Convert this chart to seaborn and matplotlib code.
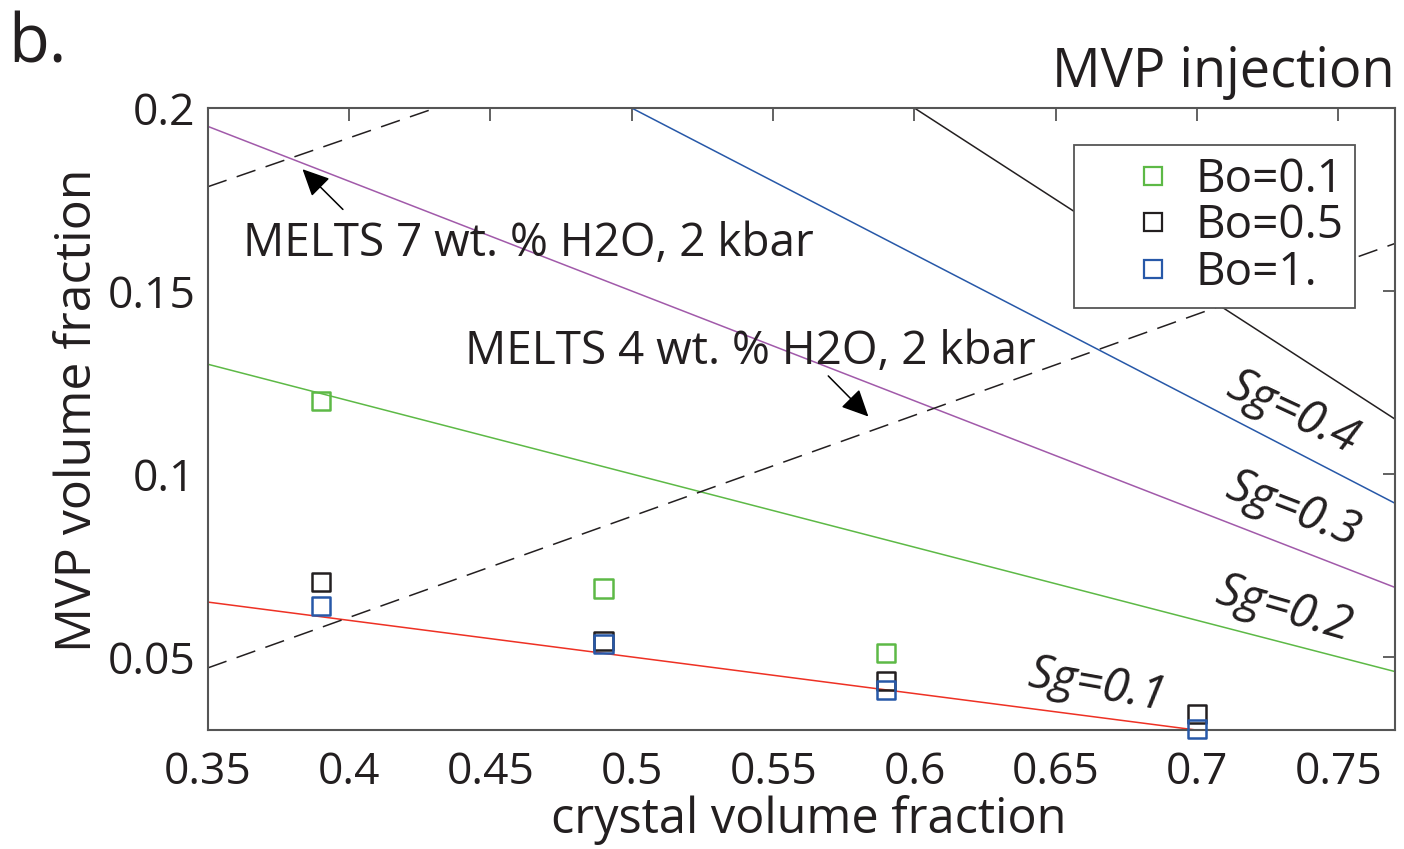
import numpy as np
import pandas as pd
import matplotlib
matplotlib.use("Agg")
import matplotlib.pyplot as plt
from matplotlib.lines import Line2D
import seaborn as sns

# ---- data ----
crystal = [0.39, 0.49, 0.59, 0.70]
bo_01 = [0.1200, 0.0687, 0.0512, np.nan]
bo_05 = [0.0704, 0.0544, 0.0435, 0.0344]
bo_1 = [0.0639, 0.0535, 0.0410, 0.0303]
bo_labels = ["Bo=0.1", "Bo=0.5", "Bo=1."]

sg_labels = ["Sg=0.1", "Sg=0.2", "Sg=0.3", "Sg=0.4", "Sg=0.5"]
sg_x0 = [0.35, 0.35, 0.35, 0.50, 0.60]
sg_y0 = [0.065, 0.130, 0.195, 0.200, 0.200]
sg_x1 = [0.70, 0.77, 0.77, 0.77, 0.77]
sg_y1 = [0.030, 0.046, 0.069, 0.092, 0.115]

melts4_x = [0.35, 0.77]
melts4_y = [0.0470, 0.1630]
melts7_x = [0.35, 0.4305]
melts7_y = [0.1785, 0.2000]

xticks = [0.35, 0.4, 0.45, 0.5, 0.55, 0.6, 0.65, 0.7, 0.75]
xtick_labels = ["0.35", "0.4", "0.45", "0.5", "0.55", "0.6", "0.65", "0.7", "0.75"]
yticks = [0.05, 0.1, 0.15, 0.2]
ytick_labels = ["0.05", "0.1", "0.15", "0.2"]

# ---- style ----
sns.set_theme(style="white")
plt.rcParams["font.family"] = ["Open Sans", "DejaVu Sans"]

sg_colors = ["#EE3124", "#5DB946", "#A15AAA", "#2758A8", "#231F20"]
bo_colors = ["#5DB946", "#231F20", "#2758A8"]
axis_col = "#555555"
txt_col = "#231F20"

fig = plt.figure(figsize=(14.04, 8.49), dpi=100)
ax = fig.add_axes([0.148, 0.140, 0.8456, 0.7327])

# Sg lines
for lab, x0, y0, x1, y1, c in zip(sg_labels, sg_x0, sg_y0, sg_x1, sg_y1, sg_colors):
    d = pd.DataFrame({"x": [x0, x1], "y": [y0, y1]})
    sns.lineplot(data=d, x="x", y="y", ax=ax, color=c, lw=1.1, legend=False)

# MELTS dashed lines
for xs, ys in [(melts4_x, melts4_y), (melts7_x, melts7_y)]:
    d = pd.DataFrame({"x": xs, "y": ys})
    sns.lineplot(data=d, x="x", y="y", ax=ax, color=txt_col, lw=1.1,
                 legend=False, linestyle=(0, (13, 7)))

# Points
pts = pd.DataFrame({
    "crystal": crystal * 3,
    "mvp": bo_01 + bo_05 + bo_1,
    "Bo": [bo_labels[0]] * 4 + [bo_labels[1]] * 4 + [bo_labels[2]] * 4,
}).dropna()
sns.scatterplot(data=pts, x="crystal", y="mvp", hue="Bo", palette=bo_colors,
                hue_order=bo_labels, marker="s", s=170,
                linewidth=1.8, ax=ax, legend=False, zorder=5)
for coll in ax.collections:
    fc = coll.get_facecolors()
    coll.set_edgecolors(fc)
    coll.set_facecolors("none")
    coll.set_clip_on(False)

ax.set_xlim(0.35, 0.77)
ax.set_ylim(0.03, 0.2)
ax.set_xticks(xticks)
ax.set_xticklabels(xtick_labels)
ax.set_yticks(yticks)
ax.set_yticklabels(ytick_labels)
ax.tick_params(direction="in", length=9, width=1.3, color=axis_col,
               labelsize=32, top=True, right=True, labelcolor=txt_col)
ax.tick_params(axis="x", pad=15)
ax.tick_params(axis="y", pad=9)
for s in ax.spines.values():
    s.set_color(axis_col)
    s.set_linewidth(1.5)
    s.set_visible(True)

ax.set_xlabel("crystal volume fraction", fontsize=35, color=txt_col)
ax.set_ylabel("MVP volume fraction", fontsize=36, color=txt_col)
ax.xaxis.set_label_coords(0.506, -0.105)
ax.yaxis.set_label_coords(-0.088, 0.515)

# Legend
handles = [Line2D([], [], marker="s", ls="none", markersize=12.5, markerfacecolor="none",
                  markeredgecolor=c, markeredgewidth=1.6) for c in bo_colors]
leg = ax.legend(handles, bo_labels, loc="upper right", bbox_to_anchor=(0.9663, 0.9405),
                fontsize=33, frameon=True, fancybox=False, edgecolor=axis_col,
                framealpha=1.0, facecolor="white",
                handletextpad=-0.55, borderpad=0.25, labelspacing=0.02,
                handlelength=2.95, borderaxespad=0)
leg.get_frame().set_linewidth(1.3)
leg.set_zorder(10)
for t in leg.get_texts():
    t.set_color(txt_col)

# Sg labels
sg_text_pos = [(0.6644, 0.0422, -10), (0.7307, 0.0629, -16), (0.7338, 0.0901, -21), (0.7335, 0.1168, -25)]
for (x, y, r), lab in zip(sg_text_pos, sg_labels[:4]):
    ax.text(x, y, lab, fontsize=34, style="italic", rotation=r, ha="center", va="center",
            color=txt_col, rotation_mode="anchor")

# MELTS annotations
astyle = "-|>,head_length=0.46,head_width=0.22"
ax.annotate("", xy=(0.3835, 0.1833), xytext=(0.3978, 0.1723),
            arrowprops=dict(arrowstyle=astyle, color="#000000", lw=1.1, mutation_scale=36,
                            shrinkA=0, shrinkB=0))
ax.text(0.3624, 0.1595, "MELTS 7 wt. % H2O, 2 kbar", fontsize=33, ha="left", va="baseline",
        color=txt_col)
ax.annotate("", xy=(0.5837, 0.1157), xytext=(0.5695, 0.1268),
            arrowprops=dict(arrowstyle=astyle, color="#000000", lw=1.1, mutation_scale=36,
                            shrinkA=0, shrinkB=0))
ax.text(0.441, 0.1301, "MELTS 4 wt. % H2O, 2 kbar", fontsize=33, ha="left", va="baseline",
        color=txt_col)

fig.text(0.9936, 0.915, "MVP injection", fontsize=39, ha="right", va="center", color=txt_col)
fig.text(0.006, 0.947, "b.", fontsize=48, ha="left", va="center", color=txt_col)

fig.savefig("out.png", dpi=100)
